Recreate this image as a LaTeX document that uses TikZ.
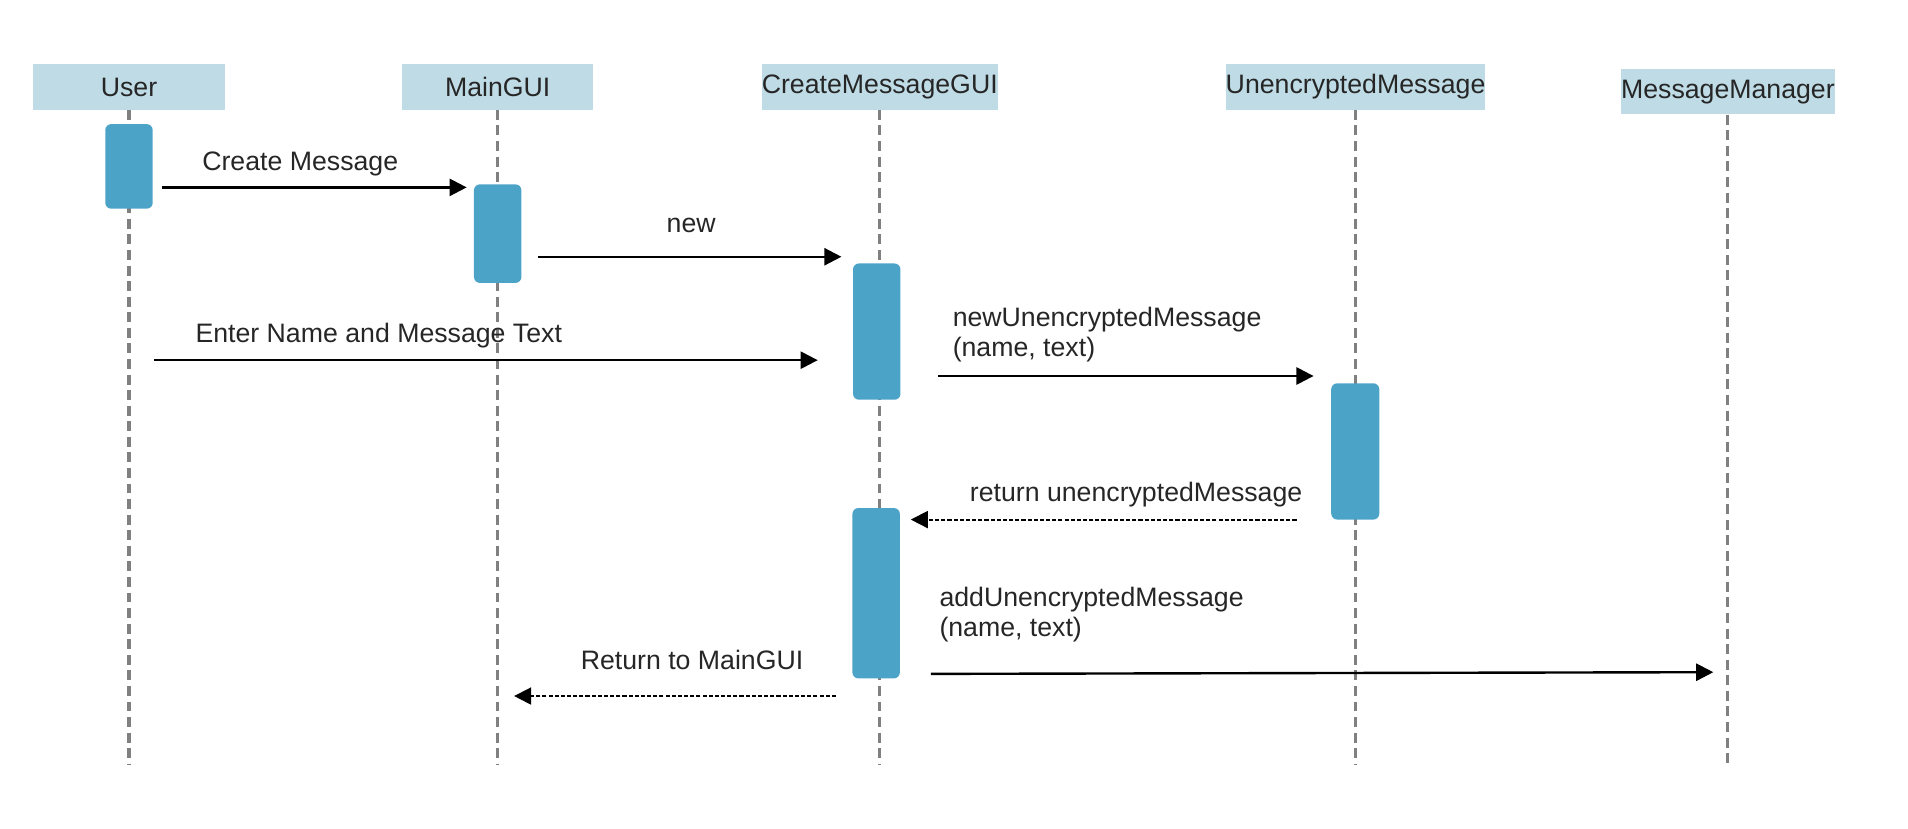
\documentclass[tikz,border=0pt]{standalone}
\usepackage{fontspec}
\setmainfont{Liberation Sans}
\usetikzlibrary{arrows.meta}
\definecolor{headfill}{HTML}{BFDCE6}
\definecolor{actfill}{HTML}{4BA3C7}
\definecolor{linegray}{HTML}{808080}
\definecolor{txt}{HTML}{262626}
\tikzset{
  head/.style={fill=headfill,minimum height=0.925cm,inner sep=0pt,text=txt},
  lifeline/.style={linegray,line width=1.8pt,dash pattern=on 5.8pt off 3.3pt},
  act/.style={fill=actfill,rounded corners=3.5pt},
  msg/.style={line width=1.4pt,-{Triangle[length=10pt,width=10pt]}},
  ret/.style={line width=1.1pt,dash pattern=on 2.4pt off 1.2pt,-{Triangle[length=10pt,width=10pt]}},
  lbl/.style={anchor=base west,inner sep=0pt,text=txt,align=left}
}
\begin{document}
\begin{tikzpicture}[x=0.025cm,y=-0.025cm,font=\fontsize{15.6pt}{17.45pt}\selectfont]
\useasboundingbox (0,0) rectangle (1568,680.5);
% lifeline heads
\node[head,minimum width=3.925cm] (user) at (106,71.5) {User};
\node[head,minimum width=3.925cm] (gui) at (409,71.5) {MainGUI};
\node[head,minimum width=4.825cm] (create) at (723,71.5) {CreateMessageGUI};
\node[head,minimum width=5.325cm] (unenc) at (1114,71.5) {UnencryptedMessage};
\node[head,minimum width=4.375cm] (manager) at (1420,75.5) {MessageManager};
% lifelines
\coordinate (userE) at (106,629);
\coordinate (guiE) at (409,629);
\coordinate (createE) at (723,629);
\coordinate (unencE) at (1114,629);
\coordinate (managerE) at (1420,631);
\draw[lifeline] (user.south) -- (userE);
\draw[lifeline] (gui.south) -- (guiE);
\draw[lifeline] (create.south) -- (createE);
\draw[lifeline] (unenc.south) -- (unencE);
\draw[lifeline] (manager.south) -- (managerE);
% activations
\fill[act] (86.5,102) rectangle (125.5,171.5);
\fill[act] (389.5,151.5) rectangle (428.5,232.5);
\fill[act] (701,216.5) rectangle (740,328.5);
\fill[act] (1094,315) rectangle (1133.5,427);
\fill[act] (700.5,417.5) rectangle (739.5,557.5);
% messages
\coordinate (m1a) at (133,154);   \coordinate (m1b) at (383.5,154);
\coordinate (m2a) at (442,211);   \coordinate (m2b) at (691.5,211);
\coordinate (m3a) at (126.7,296); \coordinate (m3b) at (672,296);
\coordinate (m4a) at (771,309);   \coordinate (m4b) at (1079.5,309);
\coordinate (m5a) at (1065.5,427);\coordinate (m5b) at (748.5,427);
\coordinate (m6a) at (765,553.8); \coordinate (m6b) at (1408,552.4);
\coordinate (m7a) at (687,572);   \coordinate (m7b) at (422.5,572);
\draw[msg] (m1a) -- (m1b);
\draw[msg] (m2a) -- (m2b);
\draw[msg] (m3a) -- (m3b);
\draw[msg] (m4a) -- (m4b);
\draw[ret] (m5a) -- (m5b);
\draw[msg] (m6a) -- (m6b);
\draw[ret] (m7a) -- (m7b);
% labels
\node[lbl] (t1) at (166,140.3) {Create Message};
\node[lbl] (t2) at (547.6,191.2) {new};
\node[lbl] (t3) at (160.4,281.5) {Enter Name and Message Text};
\node[lbl] (t4) at (782.7,292.6) {newUnencryptedMessage\\(name, text)};
\node[lbl] (t5) at (796.8,412) {return unencryptedMessage};
\node[lbl] (t6) at (771.8,523.3) {addUnencryptedMessage\\(name, text)};
\node[lbl] (t7) at (477,550) {Return to MainGUI};
\end{tikzpicture}
\end{document}
